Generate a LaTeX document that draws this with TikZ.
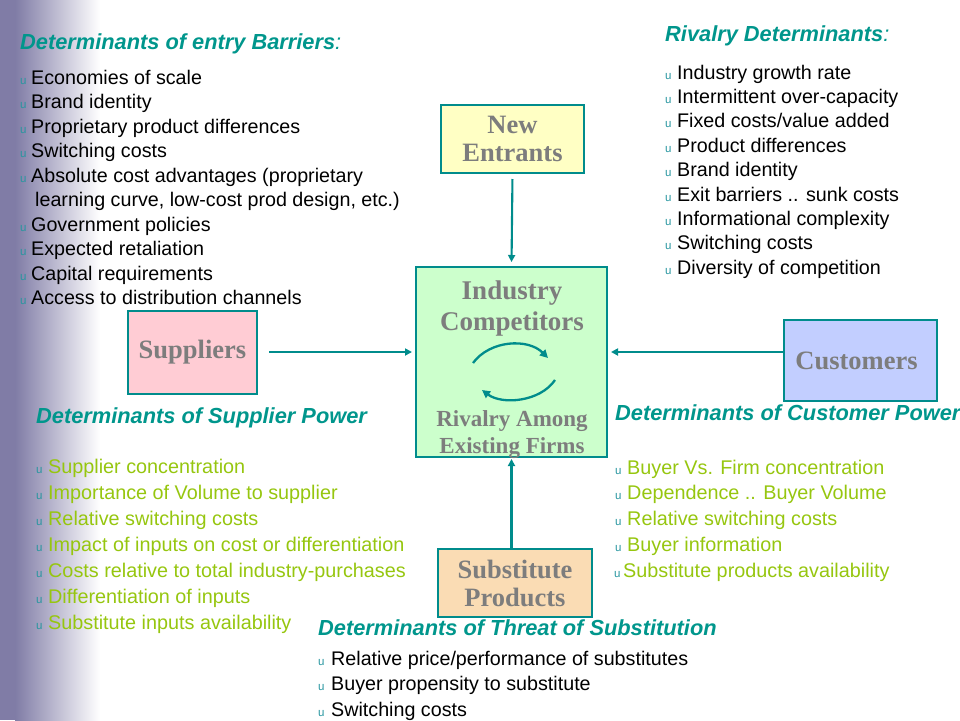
\documentclass[tikz,border=0pt]{standalone}
\usepackage{fontspec}
\setmainfont{Liberation Sans}
\newfontfamily\boxfont{Liberation Serif}
\usetikzlibrary{arrows.meta,calc}
\definecolor{tealline}{RGB}{0,140,140}
\definecolor{ttl}{RGB}{0,150,140}
\definecolor{limec}{RGB}{150,198,15}
\definecolor{bulc}{RGB}{40,150,160}
\definecolor{gtext}{RGB}{125,125,125}
\definecolor{barc}{RGB}{128,124,166}
\definecolor{fyellow}{RGB}{255,255,196}
\definecolor{fgreen}{RGB}{204,255,204}
\definecolor{fpink}{RGB}{255,204,212}
\definecolor{fblue}{RGB}{194,206,255}
\definecolor{fpeach}{RGB}{250,220,180}
\newcommand\bu[1]{\makebox[#1pt][l]{\fontsize{11.5}{11.5}\selectfont\color{bulc}u}}
\tikzset{
  ttlnode/.style={anchor=base west, inner sep=0, text=ttl, font=\fontsize{21.8}{24}\selectfont\bfseries\itshape},
  item/.style={anchor=base west, inner sep=0, font=\fontsize{19.7}{22}\selectfont},
  gitem/.style={anchor=base west, inner sep=0, text=limec, font=\fontsize{19.8}{22}\selectfont},
  boxnode/.style={draw=tealline, line width=2pt, inner sep=0, text=gtext, align=center,
    font=\boxfont\fontsize{26.5}{28}\selectfont\bfseries},
  intext/.style={anchor=base, inner sep=0, text=gtext, font=\boxfont\bfseries},
  arr/.style={draw=tealline, line width=2.1pt, -{Triangle[length=7pt,width=7pt]}},
  rarr/.style={draw=tealline, line width=2.3pt, -{Triangle[length=8pt,width=8pt]}}
}
\begin{document}
\begin{tikzpicture}[x=1pt,y=-1pt]
\useasboundingbox (0,0) rectangle (960,720);
% left gradient bar
\fill[barc] (0,0) rectangle (15,720);
\shade[left color=barc, right color=white] (15,0) rectangle (100,720);

% boxes
\node[boxnode, fill=fyellow, minimum width=143pt, minimum height=68pt] (ne) at (512.5,139) {New\\Entrants};
\node[boxnode, fill=fgreen, minimum width=191pt, minimum height=190pt] (ind) at (511.5,362) {};
\node[boxnode, fill=fpink, minimum width=129pt, minimum height=83pt] (sup) at (192.5,352) {Suppliers};
\node[boxnode, fill=fblue, minimum width=153pt, minimum height=81pt] (cus) at (860.5,360.5) {\hspace*{-8pt}Customers};
\node[boxnode, fill=fpeach, minimum width=154pt, minimum height=68pt] (sub) at (515,583) {Substitute\\Products};

% industry texts
\node[intext, font=\boxfont\bfseries\fontsize{27}{30}\selectfont] (ind1) at (512,299) {Industry};
\node[intext, font=\boxfont\bfseries\fontsize{27}{30}\selectfont] (ind2) at (512,330) {Competitors};
\node[intext, font=\boxfont\bfseries\fontsize{23}{26}\selectfont] (ind3) at (512,426) {Rivalry Among};
\node[intext, font=\boxfont\bfseries\fontsize{23}{26}\selectfont] (ind4) at (512,453) {Existing Firms};

% rivalry circular arrows
\coordinate (ra1) at (473,363);
\coordinate (ra2) at (548,358);
\coordinate (rb1) at (555,380);
\coordinate (rb2) at (482,390);
\draw[rarr] (ra1) .. controls (490,340) and (528,338) .. (ra2);
\draw[rarr] (rb1) .. controls (540,402) and (502,405) .. (rb2);

% connectors
\draw[arr, shorten <=5pt, shorten >=4pt] (ne.south) -- (ind.north);
\draw[arr, shorten <=11pt, shorten >=3pt] (sup.east) -- (sup.east -| ind.west);
\draw[arr, shorten >=3pt] (cus.west |- sup.east) -- (ind.east |- sup.east);
\draw[arr, shorten >=1pt] (sub.north -| ind.south) -- (ind.south);

% entry barriers
\node[ttlnode] (t1) at (20,49) {Determinants of entry Barriers\textmd{:}};
\node[item] (e1) at (20,84) {\bu{11}Economies of scale};
\node[item] (e2) at (20,108.5) {\bu{11}Brand identity};
\node[item] (e3) at (20,133) {\bu{11}Proprietary product differences};
\node[item] (e4) at (20,157.5) {\bu{11}Switching costs};
\node[item] (e5) at (20,182) {\bu{11}Absolute cost advantages (proprietary};
\node[item] (e5b) at (35,206.5) {learning curve, low-cost prod design, etc.)};
\node[item] (e6) at (20,231) {\bu{11}Government policies};
\node[item] (e7) at (20,255.5) {\bu{11}Expected retaliation};
\node[item] (e8) at (20,280) {\bu{11}Capital requirements};
\node[item] (e9) at (20,304.5) {\bu{11}Access to distribution channels};

% rivalry determinants
\node[ttlnode] (t2) at (665,41) {Rivalry Determinants\textmd{:}};
\node[item] (r1) at (665,79) {\bu{12}Industry growth rate};
\node[item] (r2) at (665,103.4) {\bu{12}Intermittent over-capacity};
\node[item] (r3) at (665,127.8) {\bu{12}Fixed costs/value added};
\node[item] (r4) at (665,152.2) {\bu{12}Product differences};
\node[item] (r5) at (665,176.6) {\bu{12}Brand identity};
\node[item] (r6) at (665,201) {\bu{12}Exit barriers .. sunk costs};
\node[item] (r7) at (665,225.4) {\bu{12}Informational complexity};
\node[item] (r8) at (665,249.8) {\bu{12}Switching costs};
\node[item] (r9) at (665,274.2) {\bu{12}Diversity of competition};

% supplier power
\node[ttlnode] (t3) at (36,423) {Determinants of Supplier Power};
\node[gitem] (s1) at (36,473) {\bu{12}Supplier concentration};
\node[gitem] (s2) at (36,499) {\bu{12}Importance of Volume to supplier};
\node[gitem] (s3) at (36,525) {\bu{12}Relative switching costs};
\node[gitem] (s4) at (36,551) {\bu{12}Impact of inputs on cost or differentiation};
\node[gitem] (s5) at (36,577) {\bu{12}Costs relative to total industry-purchases};
\node[gitem] (s6) at (36,603) {\bu{12}Differentiation of inputs};
\node[gitem] (s7) at (36,629) {\bu{12}Substitute inputs availability};

% customer power
\node[ttlnode] (t4) at (615,420) {Determinants of Customer Power};
\node[gitem] (c1) at (615,474) {\bu{12}Buyer Vs. Firm concentration};
\node[gitem] (c2) at (615,499.8) {\bu{12}Dependence .. Buyer Volume};
\node[gitem] (c3) at (615,525.6) {\bu{12}Relative switching costs};
\node[gitem] (c4) at (615,551.4) {\bu{12}Buyer information};
\node[gitem] (c5) at (614,577.2) {\bu{9}Substitute products availability};

% threat of substitution
\node[ttlnode] (t5) at (318,635) {Determinants of Threat of Substitution};
\node[item] (h1) at (318,665) {\bu{13}Relative price/performance of substitutes};
\node[item] (h2) at (318,690.5) {\bu{13}Buyer propensity to substitute};
\node[item] (h3) at (318,716) {\bu{13}Switching costs};
\end{tikzpicture}
\end{document}
